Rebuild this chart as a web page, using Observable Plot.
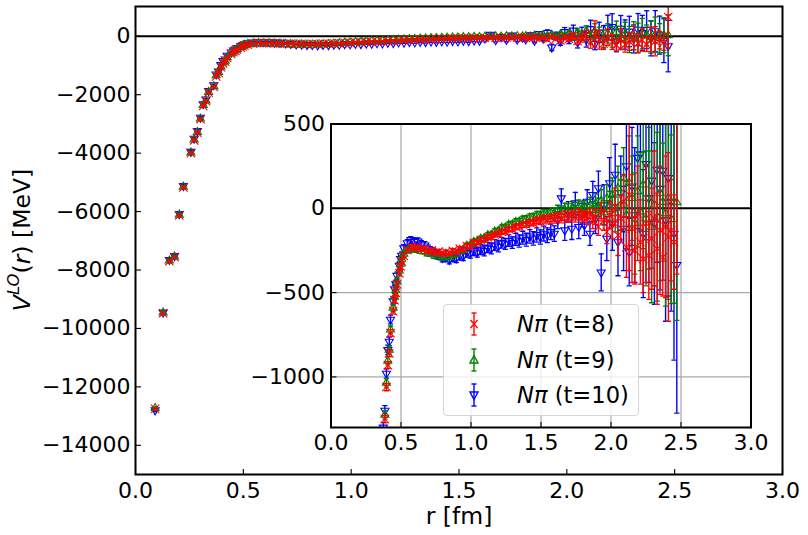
<!DOCTYPE html>
<html><head><meta charset="utf-8">
<script src="https://cdn.jsdelivr.net/npm/d3@7"></script>
<script src="https://cdn.jsdelivr.net/npm/@observablehq/plot@0.6"></script>
<style>
body{margin:0;background:#fff;}
#wrap{position:relative;width:808px;height:535px;font-family:"DejaVu Sans",sans-serif;overflow:hidden;background:#fff}
#wrap > svg{position:absolute;left:0;top:0}
#wrap > svg text{font-family:"DejaVu Sans",sans-serif !important;font-size:22px !important;font-variant:normal !important;fill:#000}
.lab{position:absolute;white-space:nowrap;color:#000;font-size:23.5px;line-height:1}
#legend{position:absolute;left:443px;top:304px;width:196px;height:112px;border:1px solid #d6d6d6;border-radius:4px;background:rgba(255,255,255,0.8);box-sizing:border-box}
.row{position:absolute;left:0;width:100%;height:0}
.row svg{position:absolute;left:20px;top:-14px}
.row span{position:absolute;left:73px;top:0;transform:translateY(-50%);font-size:22.6px;white-space:nowrap;line-height:1}
</style></head>
<body>
<div id="wrap"></div>
<script>
// lattice distances r [fm]
const r = [0.091,0.128,0.157,0.181,0.203,0.222,0.257,0.272,0.287,0.301,0.314,0.327,0.339,0.363,0.374,0.385,0.396,0.406,0.416,0.425,0.444,0.454,0.463,0.471,0.488,0.497,0.505,
0.52,0.545,0.57,0.595,0.62,0.645,0.67,0.695,0.72,0.745,0.77,0.795,0.82,0.845,0.87,0.895,0.92,0.945,0.97,0.995,1.02,1.045,1.07,1.095,1.12,1.145,1.17,1.195,
1.22,1.245,1.27,1.295,1.32,1.345,1.37,1.395,1.42,1.445,1.47,1.495,1.52,1.545,1.57,1.595,1.62,1.645,1.67,1.695,1.72,1.745,1.77,1.795,
1.81,1.83,1.85,1.87,1.89,1.91,1.93,1.95,1.97,1.99,2.01,2.03,2.05,2.07,2.09,2.11,2.13,2.15,2.17,2.19,2.21,2.23,2.25,2.27,2.29,2.31,2.33,2.35,2.37,2.39,2.41,2.43,2.45,2.47];

// N pi (t=8)
const v8 = [-12750,-9480,-7700,-7560,-6130,-5170,-4000,-3560,-3300,-2840,-2380,-2220,-1930,-1730,-1370,-1250,-1060,-930,-860,-740,-610,-545,-500,-450,-385,-345,-315,
-282,-248,-228,-236,-232,-244,-240,-254,-250,-262,-256,-268,-260,-266,-252,-256,-240,-242,-224,-226,-206,-204,-188,-188,-172,-170,-156,-152,
-140,-137,-124,-122,-110,-108,-96,-96,-84,-86,-72,-76,-62,-70,-56,-64,-50,-60,-44,-56,-40,-52,-36,-48,
-45,-60,-30,-80,-50,-110,-20,-70,-140,-40,-90,10,-160,-60,40,-230,80,-120,-250,-30,-200,-300,-90,-280,-180,-60,-240,-130,-290,-110,-170,-130,-200,660];
const e8 = [40,40,35,35,30,30,30,25,25,25,25,25,25,25,25,22,22,20,20,20,18,18,18,16,16,15,15,
12,12,12,12,12,12,12,12,12,12,12,12,12,12,12,12,12,12,12,12,12,12,12,12,14,14,14,14,
14,14,15,15,16,16,17,17,18,18,19,20,20,22,22,24,25,26,27,28,30,30,32,34,
30,35,30,40,45,50,55,60,70,80,90,110,120,140,160,180,450,320,200,280,250,200,350,260,300,400,330,380,230,420,500,300,280,1050];

// N pi (t=9)
const v9 = [-12730,-9460,-7680,-7540,-6110,-5150,-3980,-3540,-3280,-2820,-2360,-2200,-1910,-1710,-1340,-1225,-1035,-905,-840,-720,-590,-525,-485,-435,-370,-330,-300,
-270,-250,-238,-246,-242,-254,-256,-268,-272,-284,-282,-292,-286,-290,-276,-272,-254,-246,-222,-218,-200,-196,-180,-178,-160,-158,-138,-134,
-116,-114,-98,-96,-82,-80,-68,-66,-56,-54,-44,-44,-34,-36,-26,-30,-16,-22,-8,-14,-2,-10,4,-6,
5,-15,20,-10,30,0,45,-25,60,10,80,-30,120,20,180,-40,150,60,-90,100,-20,140,-60,60,-110,20,-50,90,37,-30,60,-65,37,35];
const e9 = [45,45,40,40,35,35,35,30,30,30,30,28,28,28,28,25,25,24,24,22,22,20,20,20,18,18,18,
15,15,15,15,15,15,15,15,15,15,15,15,15,15,15,15,15,15,15,15,15,15,15,15,16,16,17,17,
17,18,18,19,20,20,21,22,23,24,25,26,27,28,30,32,34,36,38,40,42,44,46,48,
40,40,45,50,55,60,65,70,80,90,100,110,130,150,180,200,280,250,300,330,350,380,400,420,450,480,500,520,350,550,600,500,600,700];

// N pi (t=10)
const v10 = [-12800,-9450,-7650,-7520,-6080,-5120,-3950,-3500,-3240,-2780,-2320,-2160,-1870,-1670,-1300,-1200,-980,-840,-790,-660,-550,-480,-450,-400,-340,-300,-280,
-236,-206,-188,-198,-196,-212,-220,-240,-256,-274,-278,-294,-292,-306,-290,-296,-280,-284,-262,-268,-252,-262,-244,-252,-232,-240,-218,-226,
-204,-212,-192,-204,-184,-194,-174,-186,-166,-178,-158,-170,-150,-160,-140,-150,-70,60,-130,-20,-120,30,-110,-40,
-100,40,-150,80,-60,120,-380,20,-180,150,-90,200,-200,90,-120,250,-260,130,-40,300,322,-150,263,60,165,-90,230,116,224,-70,180,40,-150,-335];
const e10 = [50,50,45,45,40,40,40,35,35,35,35,32,32,32,30,30,28,28,26,26,24,24,22,22,20,20,20,
20,20,20,20,20,20,22,22,22,22,24,24,24,24,26,26,26,26,28,28,28,28,30,30,30,30,32,32,
32,32,34,34,36,36,38,38,40,40,42,42,44,44,46,46,50,55,60,60,65,65,70,70,
60,70,70,80,90,100,110,120,130,150,160,180,200,220,250,300,200,350,400,420,450,380,450,500,520,480,550,600,650,600,700,650,750,880];

const xTicks = [0, 0.5, 1, 1.5, 2, 2.5, 3];
const yTicksMain = [-14000, -12000, -10000, -8000, -6000, -4000, -2000, 0];
const yTicksInset = [-1000, -500, 0, 500];
const seriesNames = ["Nπ (t=8)", "Nπ (t=9)", "Nπ (t=10)"];
const seriesColors = ["#ff0000", "#008000", "#0000ff"];

const mk = (vs, es) => r.map((x, i) => ({r: x, v: vs[i], e: es[i]}));
const s8 = mk(v8, e8), s9 = mk(v9, e9), s10 = mk(v10, e10);

const len = size => Math.sqrt(size / Math.PI);
const capSym = {draw(c, s){ const l = len(s); c.moveTo(-l, 0); c.lineTo(l, 0); }};
const tickUp = {draw(c, s){ const l = len(s); c.moveTo(0, 0); c.lineTo(0, -l); }};
const tickRight = {draw(c, s){ const l = len(s); c.moveTo(0, 0); c.lineTo(l, 0); }};
const fmtNum = d => d < 0 ? "\u2212" + Math.abs(d) : String(d);

function seriesMarks(data, color, symbol, rotate, mr) {
  return [
    Plot.ruleX(data, {x: "r", y1: d => d.v - d.e, y2: d => d.v + d.e, stroke: color, strokeWidth: 1.4, clip: true}),
    Plot.dot(data, {x: "r", y: d => d.v - d.e, symbol: capSym, r: 2.6, stroke: color, fill: "none", strokeWidth: 1.3, clip: true}),
    Plot.dot(data, {x: "r", y: d => d.v + d.e, symbol: capSym, r: 2.6, stroke: color, fill: "none", strokeWidth: 1.3, clip: true}),
    Plot.dot(data, {x: "r", y: "v", symbol, r: mr, rotate, stroke: color, fill: "none", strokeWidth: 1.1, clip: true})
  ];
}
function allSeries() {
  return [
    ...seriesMarks(s10, seriesColors[2], "triangle", 180, 3.0),
    ...seriesMarks(s9, seriesColors[1], "triangle", 0, 3.0),
    ...seriesMarks(s8, seriesColors[0], "times", 0, 3.9)
  ];
}

const style = {fontFamily: "DejaVu Sans", fontSize: "22px", background: "transparent"};

const main = Plot.plot({
  width: 808, height: 535,
  marginLeft: 135, marginRight: 26, marginTop: 6, marginBottom: 61,
  x: {domain: [0, 3]},
  y: {domain: [-15000, 1020]},
  style,
  marks: [
    Plot.ruleY([0], {stroke: "black", strokeWidth: 2}),
    ...allSeries(),
    Plot.axisX(xTicks, {tickSize: 0, tickPadding: 8, tickFormat: d => d.toFixed(1), label: null, fontSize: 22}),
    Plot.axisY(yTicksMain, {tickSize: 0, tickPadding: 5, tickFormat: fmtNum, label: null, fontSize: 22}),
    Plot.dot(xTicks, {x: d => d, y: -15000, symbol: tickUp, r: 5.5, stroke: "black", fill: "none", strokeWidth: 1.1}),
    Plot.dot(yTicksMain, {x: 0, y: d => d, symbol: tickRight, r: 5.5, stroke: "black", fill: "none", strokeWidth: 1.1}),
    Plot.frame({stroke: "black", strokeWidth: 2})
  ]
});

const inset = Plot.plot({
  width: 808, height: 535,
  marginLeft: 330.5, marginRight: 57.5, marginTop: 123.5, marginBottom: 108,
  x: {domain: [0, 3]},
  y: {domain: [-1300, 500]},
  style,
  marks: [
    Plot.frame({fill: "white", stroke: "none"}),
    Plot.ruleX(xTicks, {x: d => d, stroke: "#a8a8a8", strokeWidth: 1.2}),
    Plot.ruleY([-1000, -500, 500], {y: d => d, stroke: "#a8a8a8", strokeWidth: 1.2}),
    Plot.ruleY([0], {stroke: "black", strokeWidth: 2}),
    ...allSeries(),
    Plot.axisX(xTicks, {tickSize: 0, tickPadding: 7, tickFormat: d => d.toFixed(1), label: null, fontSize: 22}),
    Plot.axisY(yTicksInset, {tickSize: 0, tickPadding: 6, tickFormat: fmtNum, label: null, fontSize: 22}),
    Plot.dot(xTicks, {x: d => d, y: -1300, symbol: tickUp, r: 5.5, stroke: "black", fill: "none", strokeWidth: 1.1}),
    Plot.dot(yTicksInset, {x: 0, y: d => d, symbol: tickRight, r: 5.5, stroke: "black", fill: "none", strokeWidth: 1.1}),
    Plot.frame({stroke: "black", strokeWidth: 2})
  ]
});

const wrap = document.getElementById("wrap");
wrap.appendChild(main);
wrap.appendChild(inset);

// axis titles
const xl = document.createElement("div");
xl.className = "lab";
xl.style.cssText = "left:459px;top:517px;transform:translate(-50%,-50%)";
xl.textContent = "r [fm]";
wrap.appendChild(xl);
const yl = document.createElement("div");
yl.className = "lab";
yl.style.cssText = "left:21px;top:240px;transform:translate(-50%,-50%) rotate(-90deg)";
yl.innerHTML = '<i>V</i><sup style="font-size:70%;position:relative;top:-0.1em"><i>LO</i></sup>(<i>r</i>) [MeV]';
wrap.appendChild(yl);

// legend
const legend = document.createElement("div");
legend.id = "legend";
const rowsY = [19, 54.5, 90];
const legSym = [
  '<line x1="6.5" y1="10" x2="13.5" y2="18" /><line x1="13.5" y1="10" x2="6.5" y2="18" />',
  '<polygon points="10,9.5 14,17 6,17" fill="none" />',
  '<polygon points="10,18.5 14,11 6,11" fill="none" />'
];
seriesNames.forEach((name, i) => {
  const row = document.createElement("div");
  row.className = "row";
  row.style.top = rowsY[i] + "px";
  const c = seriesColors[i];
  row.innerHTML = `<svg width="20" height="28" viewBox="0 0 20 28"><g stroke="${c}" stroke-width="1.4" fill="none">
    <line x1="10" y1="3" x2="10" y2="25"/><line x1="7.5" y1="3" x2="12.5" y2="3"/><line x1="7.5" y1="25" x2="12.5" y2="25"/>${legSym[i]}</g></svg>
    <span><i>N\u03c0</i> ${name.slice(3)}</span>`;
  legend.appendChild(row);
});
wrap.appendChild(legend);
</script>
</body></html>
